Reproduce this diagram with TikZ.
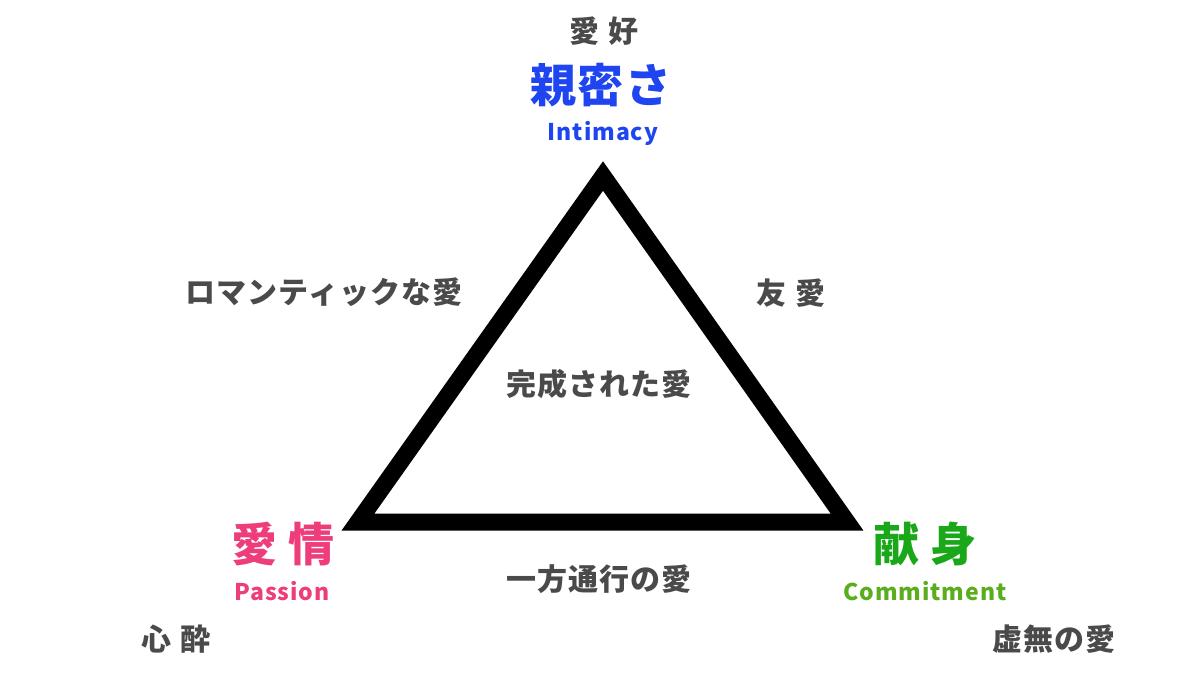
\documentclass[tikz,border=0pt]{standalone}
\usepackage{fontspec}
\setmainfont{Noto Sans CJK JP}
\newfontfamily\latinbold[LetterSpace=4]{Noto Sans CJK JP}
\newfontfamily\spaced[LetterSpace=4]{Noto Sans CJK JP}
\definecolor{textgray}{HTML}{4A4A4A}
\definecolor{intiblue}{HTML}{1E45F0}
\definecolor{passpink}{HTML}{EE3D7B}
\definecolor{commgreen}{HTML}{1AA81A}
\definecolor{commlime}{HTML}{5AAE1E}

\begin{document}
\begin{tikzpicture}[x=1pt,y=-1pt,
		every node/.style={inner sep=0pt,text=textgray},
		love/.style={font=\fontsize{30}{33}\spaced\bfseries},
		corner/.style={font=\fontsize{46}{50}\spaced\bfseries},
		english/.style={anchor=base,font=\fontsize{23}{26}\latinbold\bfseries}]
		\useasboundingbox[fill=white] (0,0) rectangle (1200,680);
		% vertices of the triangle
		\coordinate (top) at (603,176);
		\coordinate (left) at (358,522);
		\coordinate (right) at (847,522);
		\draw[line width=17pt,line join=miter] (top) -- (left) -- (right) -- cycle;
		% components
		\node[corner,text=intiblue] (intimacy) at (601,85) {親密さ};
		\node[english,text=intiblue] (intimacyen) at (603,140) {Intimacy};
		\node[corner,text=passpink] (passion) at (283,544) {愛\hspace{0.25em}情};
		\node[english,text=passpink] (passionen) at (282,600) {Passion};
		\node[corner,text=commgreen] (commitment) at (925,544) {献\hspace{0.25em}身};
		\node[english,text=commlime] (commitmenten) at (925,600) {Commitment};
		% kinds of love
		\node[love] (liking) at (604,31) {愛\hspace{0.3em}好};
		\node[love] (romantic) at (324,292) {ロマンティックな愛};
		\node[love] (companionate) at (791,293) {友\hspace{0.3em}愛};
		\node[love] (consummate) at (599,384) {完成された愛};
		\node[love] (fatuous) at (599,579) {一方通行の愛};
		\node[love] (infatuation) at (176,639) {心\hspace{0.3em}酔};
		\node[love] (empty) at (1054,639) {虚無の愛};
\end{tikzpicture}
\end{document}
